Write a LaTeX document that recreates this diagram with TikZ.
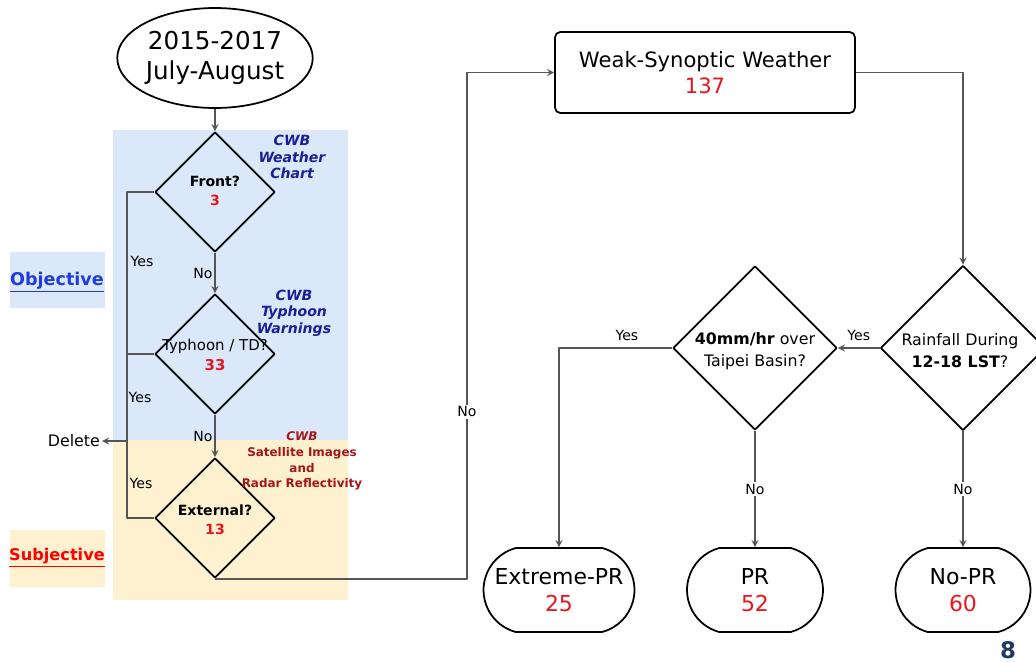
\documentclass[tikz,border=0pt]{standalone}
\usepackage{fontspec}
\setmainfont{DejaVu Sans}
\usetikzlibrary{shapes.geometric,shapes.misc}
\definecolor{objblue}{RGB}{218,232,250}
\definecolor{subjbeige}{RGB}{253,241,208}
\definecolor{numred}{RGB}{232,22,30}
\definecolor{cwbblue}{RGB}{28,30,150}
\definecolor{cwbred}{RGB}{165,22,22}
\definecolor{linkblue}{RGB}{30,60,220}
\definecolor{pagenum}{RGB}{31,56,100}
\definecolor{linegray}{RGB}{85,85,85}
\tikzset{
	decision/.style={diamond,draw=black,line width=1pt,aspect=1,inner sep=0pt},
	terminal/.style={rounded rectangle,rounded rectangle arc length=150,draw=black,line width=1pt,minimum height=1.68cm,inner xsep=2pt,align=center,font=\fontsize{12.5}{15.5}\selectfont},
	qtext/.style={align=center,inner sep=0pt},
	flow/.style={draw=linegray,line width=0.8pt,->},
	wire/.style={draw=linegray,line width=0.8pt},
	ans/.style={font=\fontsize{8}{9}\selectfont,inner sep=1pt},
	cwb/.style={align=center,font=\bfseries\itshape\fontsize{8}{9.5}\selectfont,text=cwbblue}
}
\newcommand{\num}[1]{\textcolor{numred}{#1}}
\begin{document}
\begin{tikzpicture}[>=stealth,x=0.02cm,y=-0.02cm,line join=round]
	\useasboundingbox (0,0) rectangle (1036,663);
	% shaded bands
	\fill[objblue] (113,130) rectangle (348,440);
	\fill[subjbeige] (113,440) rectangle (348,600);
	\fill[objblue] (10,252) rectangle (105,308);
	\fill[subjbeige] (10,530) rectangle (105,587);
	\path
	(127,441) coordinate (split)
	(467,300) coordinate (turn);
	% left column
	\node[ellipse,draw=black,line width=1pt,minimum width=3.4cm,minimum height=2cm,inner sep=0pt,align=center,font=\fontsize{14}{17}\selectfont] (start) at (215,58) {2015-2017\\July-August};
	\node[decision,minimum size=2.4cm] (front) at (215,192) {};
	\node[decision,minimum size=2.4cm] (typhoon) at (215,354) {};
	\node[decision,minimum size=2.4cm] (external) at (215,518) {};
	\node[qtext,font=\bfseries\fontsize{8}{11}\selectfont] (frontTxt) at (215,191) {Front?\\\num{3}};
	\node[qtext,font=\fontsize{8.5}{11}\selectfont] (typhoonTxt) at (215,355) {Typhoon / TD?\\\num{\bfseries 33}};
	\node[qtext,font=\bfseries\fontsize{8}{11}\selectfont] (externalTxt) at (215,520) {External?\\\num{13}};
	\node[cwb] (chart) at (292,157) {CWB\\Weather\\Chart};
	\node[cwb] (warn) at (294,313) {CWB\\Typhoon\\Warnings};
	\node[align=center,font=\bfseries\fontsize{6.8}{9}\selectfont,text=cwbred] (radar) at (302,461) {\itshape CWB\\Satellite Images\\and\\Radar Reflectivity};
	\node[font=\bfseries\fontsize{10}{12}\selectfont,text=linkblue] (objective) at (57,282) {\underline{Objective}};
	\node[font=\bfseries\fontsize{9.2}{12}\selectfont,text=red] (subjective) at (57,558) {\underline{Subjective}};
	\node[anchor=east,inner sep=1pt,font=\fontsize{9}{10}\selectfont] (delete) at (102,441) {Delete};
	% right part
	\node[draw=black,line width=1pt,rounded corners=3pt,minimum width=6cm,minimum height=1.62cm,align=center,font=\fontsize{12}{15}\selectfont] (weak) at (705,72.5) {Weak-Synoptic Weather\\\num{137}};
	\node[decision,minimum size=3.3cm] (rain) at (963,348) {};
	\node[decision,minimum size=3.28cm] (basin) at (755,348) {};
	\node[qtext,font=\fontsize{9}{12.5}\selectfont] (rainTxt) at (960,351) {Rainfall During\\\textbf{12-18 LST}?};
	\node[qtext,font=\fontsize{9}{12.5}\selectfont] (basinTxt) at (755,351) {\textbf{40mm/hr} over\\Taipei Basin?};
	\node[terminal,minimum width=3.16cm] (extreme) at (559,590) {Extreme-PR\\\num{25}};
	\node[terminal,minimum width=2.86cm] (pr) at (755,590) {PR\\\num{52}};
	\node[terminal,minimum width=2.84cm] (nopr) at (963,590) {No-PR\\\num{60}};
	\node[font=\bfseries\fontsize{13}{13}\selectfont,text=pagenum] (page) at (1008,650) {8};
	% connectors
	\draw[flow] (start.south) -- (front.north);
	\draw[flow] (front.south) -- node[ans,left] {No} (typhoon.north);
	\draw[flow] (typhoon.south) -- node[ans,left] {No} (external.north);
	\draw[wire] (front.west) -- (front.west -| split) -- (external.west -| split) -- (external.west);
	\draw[wire] (typhoon.west) -- (typhoon.west -| split);
	\draw[flow] (split) -- (delete.east);
	\node[ans] (yesA) at (142,261) {Yes};
	\node[ans] (yesB) at (140,397) {Yes};
	\node[ans] (yesC) at (141,483) {Yes};
	\draw[flow] (external.south) -- (external.south -| turn) -- node[ans,fill=white,pos=0.33] {No} (weak.west -| turn) -- (weak.west);
	\draw[flow] (weak.east) -| (rain.north);
	\draw[flow] (rain.west) -- node[ans,above=3pt] {Yes} (basin.east);
	\draw[flow] (basin.west) -| node[ans,above=3pt,pos=0.2] {Yes} (extreme.north);
	\draw[flow] (basin.south) -- node[ans,fill=white] {No} (pr.north);
	\draw[flow] (rain.south) -- node[ans,fill=white] {No} (nopr.north);
\end{tikzpicture}
\end{document}
